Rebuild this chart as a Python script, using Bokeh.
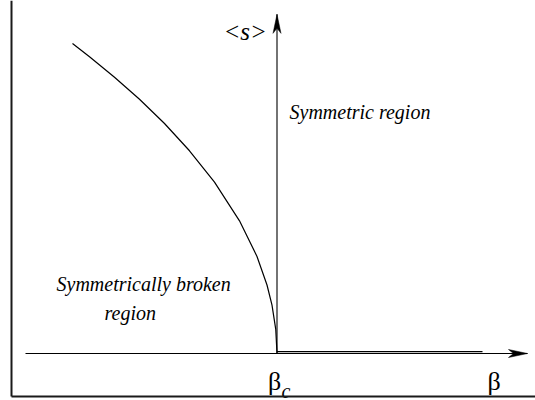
from bokeh.plotting import figure
from bokeh.models import Range1d
from bokeh.core.properties import value
from bokeh.embed import file_html
from bokeh.resources import INLINE

# ---- data ----
# order parameter <s> in the broken phase (beta < beta_c = 1)
beta_broken = [0.182, 0.25, 0.35, 0.45, 0.55, 0.65, 0.75, 0.85, 0.92, 0.96, 0.98, 0.995, 1.0]
s_broken = [1.0, 0.957, 0.891, 0.820, 0.742, 0.654, 0.553, 0.428, 0.313, 0.221, 0.156, 0.078, 0.0]
# symmetric phase (beta > beta_c): <s> = 0
beta_sym = [1.0, 1.822]
s_sym = [0.006, 0.006]
# axes
beta_axis = [-0.006, 2.002]
s_axis = [0.0, 1.094]
beta_c = 1.0
labels_region = ["Symmetric region", "Symmetrically broken", "region"]

# pixel scale of the drawing (px per unit)
PX_B = 250.0
PX_S = 310.0


def bx(px):
    return 1 + (px - 276.5) / PX_B


def sy(py):
    return (353 - py) / PX_S


W, H = 535, 400
p = figure(width=W, height=H, output_backend="svg", toolbar_location=None,
           x_range=Range1d(bx(0), bx(535)), y_range=Range1d(sy(400), sy(0)),
           min_border=0)
p.axis.visible = False
p.grid.visible = False
p.outline_line_color = None


def label(px, py, txt, size, italic=True):
    p.text(x=[bx(px)], y=[sy(py)], text=[txt], text_font=value("Liberation Serif"),
           text_font_style="italic" if italic else "normal", text_font_size=size,
           text_baseline="alphabetic", text_color="black")


# region labels
label(289, 111, labels_region[0], "20px")
label(56, 283, labels_region[1], "20px")
label(104, 312, labels_region[2], "20px")

# axis labels
label(223, 31, "<s>", "25px")
label(267.5, 381, "β", "26px", italic=False)
label(281, 390, "c", "20px")
label(487, 381, "β", "26px", italic=False)

# frame lines (left and bottom)
p.line([bx(11), bx(11)], [sy(0), sy(396)], line_color="#1a1a1a", line_width=2)
p.line([bx(11), bx(535)], [sy(396), sy(396)], line_color="#1a1a1a", line_width=2)

# axes
p.line(beta_axis, [0, 0], line_color="black", line_width=1.1)
p.line([beta_c, beta_c], s_axis, line_color="black", line_width=1.1)

# arrowheads (length 19 px, half-width 4 px, notch 5 px)
L, HW, N = 19, 4, 14
bt = beta_axis[1]
p.patch([bt, bt - L / PX_B, bt - N / PX_B, bt - L / PX_B],
        [0, HW / PX_S, 0, -HW / PX_S], color="black", line_width=0.5)
st = s_axis[1]
p.patch([beta_c, beta_c - HW / PX_B, beta_c, beta_c + HW / PX_B],
        [st, st - L / PX_S, st - N / PX_S, st - L / PX_S], color="black", line_width=0.5)

# curves
p.line(beta_broken, s_broken, line_color="black", line_width=1.2)
p.line(beta_sym, s_sym, line_color="black", line_width=1.1)

open("out.html", "w").write(file_html(p, INLINE))
